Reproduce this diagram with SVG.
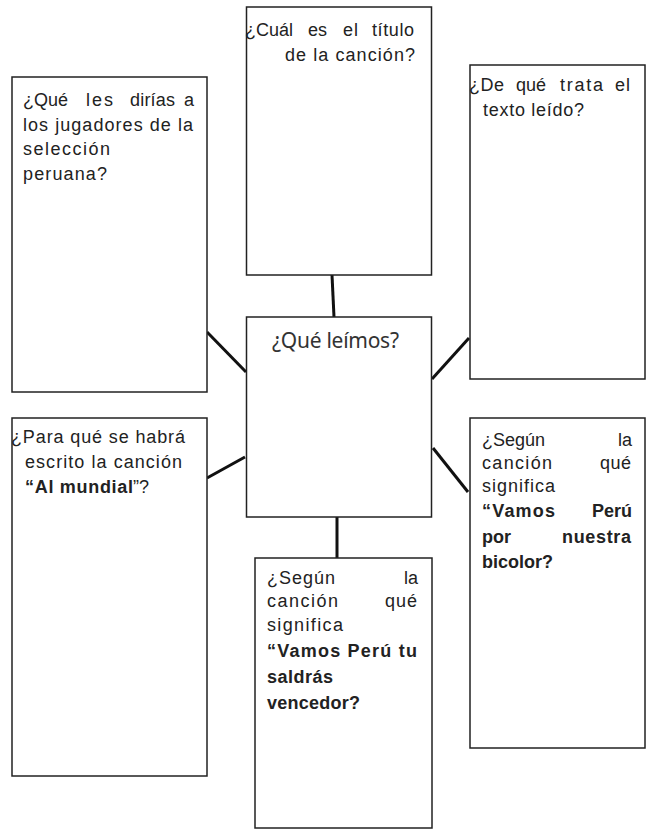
<svg xmlns="http://www.w3.org/2000/svg" width="647" height="830" viewBox="0 0 647 830">
<style>
.box{fill:#fff;stroke:#222;stroke-width:1.5}
.t{font-family:"Liberation Sans",Arial,sans-serif;font-size:18px;fill:#222}
.b{font-weight:bold}
.e{text-anchor:end}
.c{font-family:"Noto Sans","Open Sans",sans-serif;font-size:21px;fill:#333}
.con line{stroke:#111;stroke-width:3;stroke-linecap:butt}
</style>
<rect width="647" height="830" fill="#fff"/>
<g id="connectors" class="con">
<line x1="207" y1="332" x2="246" y2="372"/>
<line x1="332" y1="275" x2="334" y2="317"/>
<line x1="432" y1="379" x2="469" y2="338"/>
<line x1="207" y1="478" x2="245" y2="457"/>
<line x1="433" y1="448" x2="468" y2="492"/>
<line x1="337" y1="517" x2="337" y2="558"/>
</g>
<g id="center">
<rect class="box" x="246.5" y="317" width="185" height="200"/>
<text class="c" x="272" y="348" textLength="127">¿Qué leímos?</text>
</g>
<g id="q1">
<rect class="box" x="12" y="77" width="195" height="315"/>
<text class="t" x="23" y="106">¿Qué</text>
<text class="t" x="86" y="106" textLength="27">les</text>
<text class="t" x="130" y="106" textLength="45">dirías</text>
<text class="t e" x="194" y="106">a</text>
<text class="t" x="23" y="131" textLength="170">los jugadores de la</text>
<text class="t" x="23" y="155" textLength="87">selección</text>
<text class="t" x="23" y="180" textLength="84">peruana?</text>
</g>
<g id="q2">
<rect class="box" x="246.5" y="7" width="185" height="268"/>
<text class="t" x="245" y="36">¿Cuál</text>
<text class="t" x="308" y="36">es</text>
<text class="t" x="343" y="36" textLength="15">el</text>
<text class="t" x="372" y="36" textLength="42">título</text>
<text class="t" x="285" y="61" textLength="130">de la canción?</text>
</g>
<g id="q3">
<rect class="box" x="470" y="65" width="175" height="314"/>
<text class="t" x="469" y="91" textLength="35">¿De</text>
<text class="t" x="516" y="91">qué</text>
<text class="t" x="560" y="91" textLength="43">trata</text>
<text class="t" x="615" y="91" textLength="15">el</text>
<text class="t" x="483" y="116" textLength="101">texto leído?</text>
</g>
<g id="q4">
<rect class="box" x="12" y="418" width="195" height="358"/>
<text class="t" x="11" y="443" textLength="174">¿Para qué se habrá</text>
<text class="t" x="25" y="468" textLength="157">escrito la canción</text>
<text class="t" x="25" y="493"><tspan class="b" textLength="108">“Al mundial</tspan><tspan x="133">”?</tspan></text>
</g>
<g id="q5">
<rect class="box" x="470" y="418" width="175" height="330"/>
<text class="t" x="482" y="446" textLength="63">¿Según</text>
<text class="t e" x="632" y="446">la</text>
<text class="t" x="482" y="469" textLength="70">canción</text>
<text class="t" x="600" y="469" textLength="31">qué</text>
<text class="t" x="482" y="492" textLength="73">significa</text>
<text class="t b" x="482" y="517" textLength="73">“Vamos</text>
<text class="t b e" x="632" y="517">Perú</text>
<text class="t b" x="482" y="543">por</text>
<text class="t b" x="562" y="543" textLength="69">nuestra</text>
<text class="t b" x="482" y="568" textLength="71">bicolor?</text>
</g>
<g id="q6">
<rect class="box" x="255" y="558" width="177" height="270"/>
<text class="t" x="267" y="584" textLength="68">¿Según</text>
<text class="t e" x="418" y="584">la</text>
<text class="t" x="267" y="607" textLength="71">canción</text>
<text class="t" x="385" y="607" textLength="32">qué</text>
<text class="t" x="267" y="631" textLength="76">significa</text>
<text class="t b" x="267" y="657" textLength="150">“Vamos Perú tu</text>
<text class="t b" x="267" y="683" textLength="66">saldrás</text>
<text class="t b" x="267" y="709" textLength="93">vencedor?</text>
</g>
</svg>
